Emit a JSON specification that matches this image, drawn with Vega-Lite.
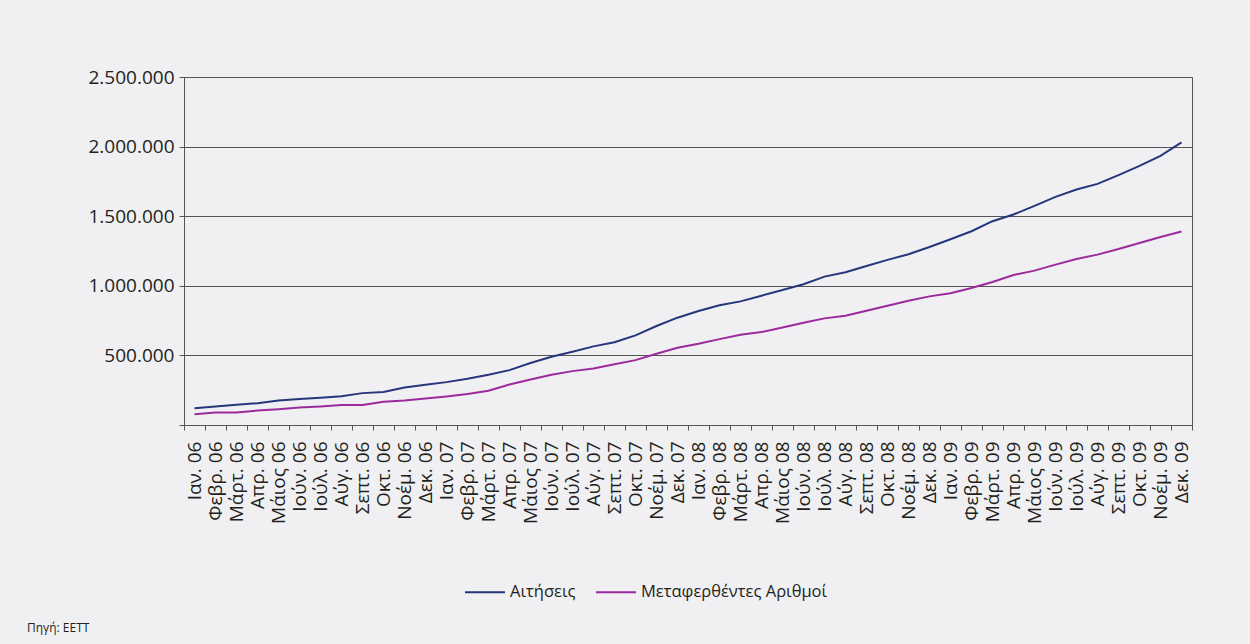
{
  "$schema": "https://vega.github.io/schema/vega-lite/v6.json",
  "width": 1008,
  "height": 348,
  "autosize": {"type": "none"},
  "padding": {"left": 184, "top": 77, "right": 58, "bottom": 219},
  "background": "#f0f0f2",
  "config": {
    "locale": {"number": {"decimal": ",", "thousands": ".", "grouping": [3], "currency": ["", "€"]}},
    "view": {"stroke": "#555555", "strokeWidth": 1},
    "font": "Open Sans"
  },
  "title": {
    "text": "Πηγή: ΕΕΤΤ",
    "orient": "top",
    "anchor": "start",
    "frame": "group",
    "dx": -157,
    "dy": 571,
    "fontSize": 12,
    "fontWeight": "normal",
    "color": "#231f20"
  },
  "data": {
    "values": [
      {"m": "Ιαν. 06", "a": 121000, "b": 78000},
      {"m": "Φεβρ. 06", "a": 133000, "b": 90000},
      {"m": "Μάρτ. 06", "a": 145000, "b": 90000},
      {"m": "Απρ. 06", "a": 157000, "b": 104000},
      {"m": "Μάιος 06", "a": 176000, "b": 114000},
      {"m": "Ιούν. 06", "a": 186000, "b": 126000},
      {"m": "Ιούλ. 06", "a": 196000, "b": 133000},
      {"m": "Αύγ. 06", "a": 207000, "b": 143000},
      {"m": "Σεπτ. 06", "a": 229000, "b": 143000},
      {"m": "Οκτ. 06", "a": 237000, "b": 167000},
      {"m": "Νοέμ. 06", "a": 270000, "b": 176000},
      {"m": "Δεκ. 06", "a": 289000, "b": 191000},
      {"m": "Ιαν. 07", "a": 308000, "b": 205000},
      {"m": "Φεβρ. 07", "a": 332000, "b": 222000},
      {"m": "Μάρτ. 07", "a": 361000, "b": 246000},
      {"m": "Απρ. 07", "a": 394000, "b": 291000},
      {"m": "Μάιος 07", "a": 445000, "b": 327000},
      {"m": "Ιούν. 07", "a": 490000, "b": 361000},
      {"m": "Ιούλ. 07", "a": 526000, "b": 387000},
      {"m": "Αύγ. 07", "a": 565000, "b": 406000},
      {"m": "Σεπτ. 07", "a": 594000, "b": 437000},
      {"m": "Οκτ. 07", "a": 644000, "b": 466000},
      {"m": "Νοέμ. 07", "a": 711000, "b": 512000},
      {"m": "Δεκ. 07", "a": 771000, "b": 555000},
      {"m": "Ιαν. 08", "a": 819000, "b": 584000},
      {"m": "Φεβρ. 08", "a": 860000, "b": 617000},
      {"m": "Μάρτ. 08", "a": 888000, "b": 649000},
      {"m": "Απρ. 08", "a": 929000, "b": 668000},
      {"m": "Μάιος 08", "a": 970000, "b": 701000},
      {"m": "Ιούν. 08", "a": 1011000, "b": 735000},
      {"m": "Ιούλ. 08", "a": 1066000, "b": 766000},
      {"m": "Αύγ. 08", "a": 1097000, "b": 785000},
      {"m": "Σεπτ. 08", "a": 1142000, "b": 821000},
      {"m": "Οκτ. 08", "a": 1186000, "b": 857000},
      {"m": "Νοέμ. 08", "a": 1227000, "b": 893000},
      {"m": "Δεκ. 08", "a": 1279000, "b": 924000},
      {"m": "Ιαν. 09", "a": 1334000, "b": 946000},
      {"m": "Φεβρ. 09", "a": 1392000, "b": 984000},
      {"m": "Μάρτ. 09", "a": 1464000, "b": 1027000},
      {"m": "Απρ. 09", "a": 1512000, "b": 1078000},
      {"m": "Μάιος 09", "a": 1574000, "b": 1109000},
      {"m": "Ιούν. 09", "a": 1639000, "b": 1152000},
      {"m": "Ιούλ. 09", "a": 1692000, "b": 1193000},
      {"m": "Αύγ. 09", "a": 1732000, "b": 1224000},
      {"m": "Σεπτ. 09", "a": 1795000, "b": 1265000},
      {"m": "Οκτ. 09", "a": 1862000, "b": 1308000},
      {"m": "Νοέμ. 09", "a": 1934000, "b": 1351000},
      {"m": "Δεκ. 09", "a": 2030000, "b": 1390000}
    ]
  },
  "transform": [
    {"fold": ["a", "b"], "as": ["key", "value"]},
    {"lookup": "key", "from": {"data": {"values": [{"key": "a", "series": "Αιτήσεις"}, {"key": "b", "series": "Μεταφερθέντες Αριθμοί"}]}, "key": "key", "fields": ["series"]}}
  ],
  "mark": {"type": "line", "strokeWidth": 2},
  "encoding": {
    "x": {
      "field": "m",
      "type": "nominal",
      "sort": null,
      "scale": {"type": "band", "paddingInner": 0, "paddingOuter": 0},
      "axis": {
        "title": null,
        "labelAngle": -90,
        "labelAlign": "right",
        "labelBaseline": "middle",
        "tickBand": "extent",
        "labelFontSize": 19,
        "labelColor": "#231f20",
        "tickColor": "#555555",
        "domainColor": "#555555",
        "tickSize": 5,
        "labelPadding": 11,
        "labelOverlap": false
      }
    },
    "y": {
      "field": "value",
      "type": "quantitative",
      "scale": {"domain": [0, 2500000], "nice": false},
      "axis": {
        "title": null,
        "values": [0, 500000, 1000000, 1500000, 2000000, 2500000],
        "format": ",d",
        "labelExpr": "datum.value == 0 ? '' : datum.label",
        "gridColor": "#555555",
        "gridOpacity": 1,
        "tickColor": "#555555",
        "domainColor": "#555555",
        "tickSize": 5,
        "labelPadding": 5,
        "labelFontSize": 19,
        "labelColor": "#231f20"
      }
    },
    "color": {
      "field": "series",
      "type": "nominal",
      "scale": {"domain": ["Αιτήσεις", "Μεταφερθέντες Αριθμοί"], "range": ["#27367a", "#9c2a9c"]},
      "legend": {
        "title": null,
        "orient": "none",
        "direction": "horizontal",
        "legendX": 280,
        "legendY": 494,
        "symbolType": "stroke",
        "symbolSize": 1600,
        "symbolStrokeWidth": 2,
        "labelFontSize": 16.5,
        "labelLimit": 400,
        "labelColor": "#231f20",
        "columnPadding": 16
      }
    }
  }
}
